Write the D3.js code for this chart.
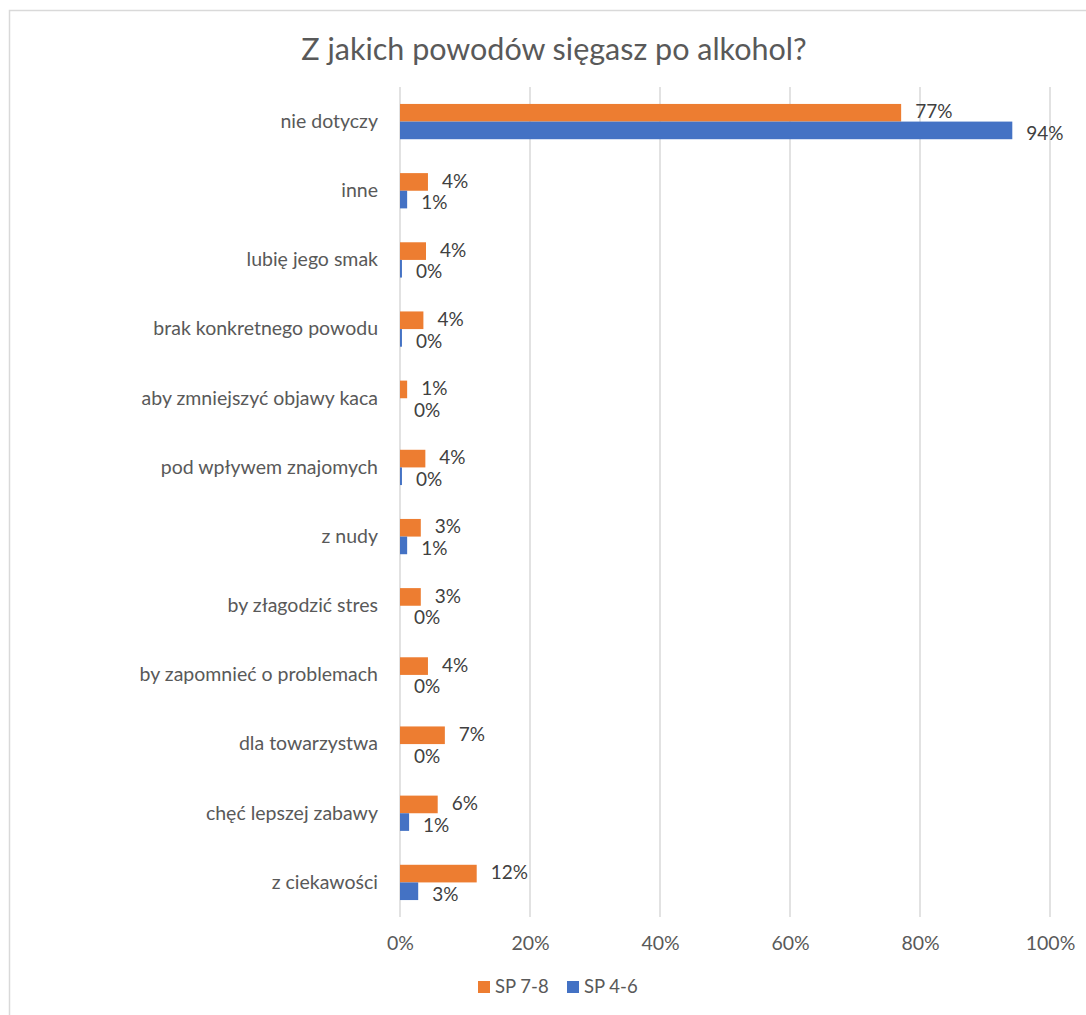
<!DOCTYPE html>
<html>
<head>
<meta charset="utf-8">
<script src="https://cdn.jsdelivr.net/npm/d3@7"></script>
<style>
  body { margin: 0; background: #fff; }
  svg text { font-family: Lato, "Open Sans", sans-serif; fill: #595959; }
</style>
</head>
<body>
<div class="bar-chart"></div>
<script>
// categories, top to bottom as drawn
const categories = [
    "nie dotyczy", "inne", "lubię jego smak", "brak konkretnego powodu",
    "aby zmniejszyć objawy kaca", "pod wpływem znajomych", "z nudy",
    "by złagodzić stres", "by zapomnieć o problemach", "dla towarzystwa",
    "chęć lepszej zabawy", "z ciekawości"
];
const sp78 = [77.1, 4.3, 4, 3.6, 1.1, 3.9, 3.2, 3.2, 4.3, 6.9, 5.8, 11.8];
const sp46 = [94.2, 1.1, 0.3, 0.3, 0, 0.3, 1.1, 0, 0, 0, 1.4, 2.8];
const seriesNames = ["SP 7-8", "SP 4-6"];
const colors = ["#ed7d31", "#4472c4"];
const ticks = [0, 20, 40, 60, 80, 100];

const width = 1086;
const height = 1015;

const svg = d3.select('.bar-chart').append('svg')
    .attr('width', width)
    .attr('height', height);

// chart border
svg.append('rect')
    .attr('x', 9.5).attr('y', 10.5)
    .attr('width', width + 10).attr('height', height + 10)
    .style('fill', 'none')
    .style('stroke', '#d9d9d9')
    .style('stroke-width', 1.5);

svg.append('text')
    .attr('x', 554).attr('y', 60)
    .attr('text-anchor', 'middle')
    .style('font-size', '30.5px')
    .text("Z jakich powodów sięgasz po alkohol?");

const x = d3.scaleLinear().domain([0, 100]).range([400, 1050]);
const y = d3.scaleBand().domain(categories).range([87, 917]).paddingInner(0.49).paddingOuter(0.245);
const sub = d3.scaleBand().domain([0, 1]).range([0, y.bandwidth()]);

// gridlines
svg.selectAll('line.grid')
    .data(ticks)
    .enter()
    .append('line')
    .attr('class', 'grid')
    .attr('x1', d => x(d)).attr('x2', d => x(d))
    .attr('y1', 87).attr('y2', 917)
    .style('stroke', '#d9d9d9')
    .style('stroke-width', 1.5);

// x axis labels
const xAxis = svg.append('g')
    .attr('transform', 'translate(0,917)')
    .call(d3.axisBottom(x).tickValues(ticks).tickFormat(d => d + '%').tickSize(0).tickPadding(19));
xAxis.select('.domain').remove();
xAxis.selectAll('text').style('font-size', '19.5px').style('fill', '#595959');

// category labels
const yAxis = svg.append('g')
    .attr('transform', 'translate(400,0)')
    .call(d3.axisLeft(y).tickSize(0).tickPadding(22));
yAxis.select('.domain').remove();
yAxis.selectAll('text').style('font-size', '19.5px').style('fill', '#595959');

const series = [sp78, sp46];
series.forEach((vals, i) => {
    const g = svg.append('g');
    g.selectAll('rect')
        .data(vals)
        .enter()
        .append('rect')
        .attr('x', x(0))
        .attr('y', (d, j) => y(categories[j]) + sub(i))
        .attr('width', d => x(d) - x(0))
        .attr('height', sub.bandwidth())
        .style('fill', colors[i]);

    g.selectAll('text')
        .data(vals)
        .enter()
        .append('text')
        .attr('x', d => x(d) + 14)
        .attr('y', (d, j) => y(categories[j]) + sub(i) + sub.bandwidth() / 2 + (i == 0 ? -1 : 3))
        .attr('dy', '0.35em')
        .style('font-size', '19px')
        .style('fill', '#404040')
        .text(d => Math.round(d) + '%');
});

// legend
const legend = svg.append('g').attr('transform', 'translate(478,987)');
const items = legend.selectAll('g')
    .data(seriesNames)
    .enter()
    .append('g')
    .attr('transform', (d, i) => `translate(${i * 89},0)`);
items.append('rect')
    .attr('x', 0).attr('y', -6)
    .attr('width', 12).attr('height', 12)
    .style('fill', (d, i) => colors[i]);
items.append('text')
    .attr('x', 17)
    .attr('dy', '0.35em')
    .style('font-size', '18.5px')
    .text(d => d);
</script>
</body>
</html>
